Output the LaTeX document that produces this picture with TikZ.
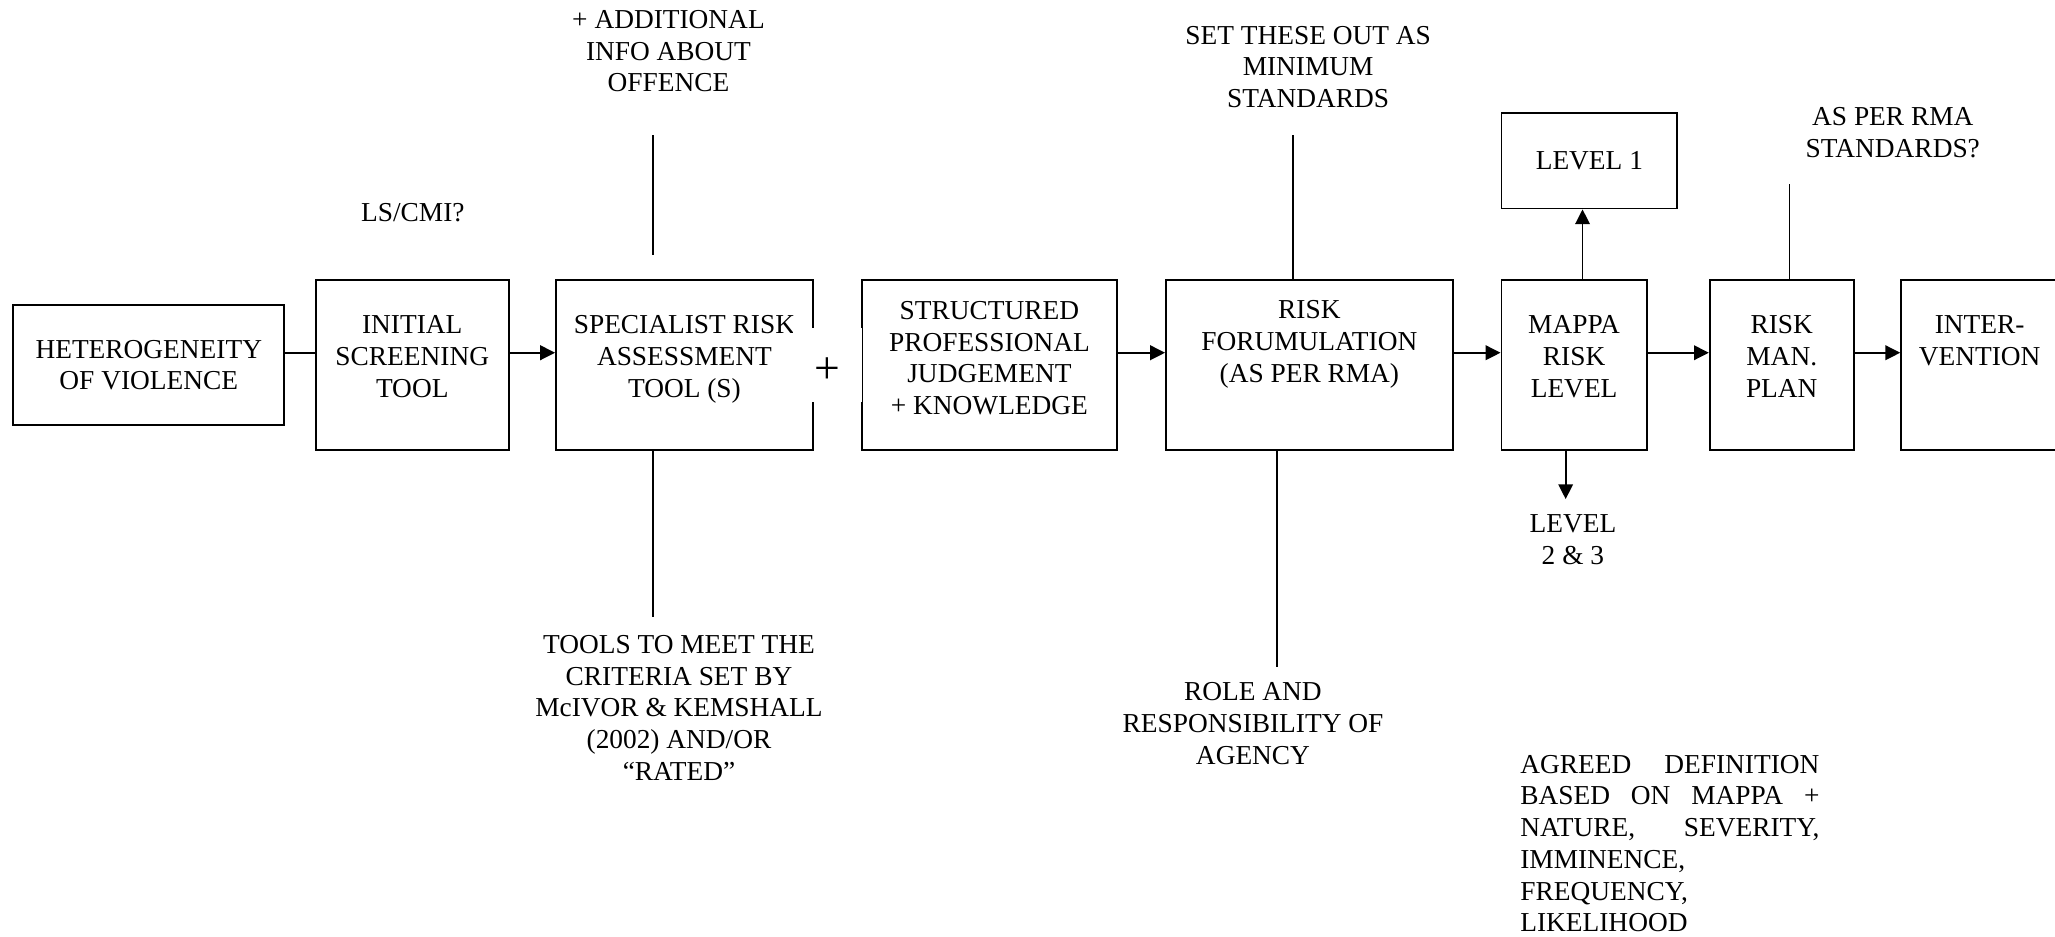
\documentclass[tikz,border=0pt]{standalone}
\usepackage{fontspec}
\setmainfont{Liberation Serif}
\usetikzlibrary{positioning, calc, arrows.meta}

\begin{document}
\begin{tikzpicture}[
  node distance=0.722cm,
  every node/.style={font=\fontsize{12}{13.9}\selectfont},
  stagebox/.style={draw, line width=0.8pt, align=center, minimum height=2.61cm, inner sep=2pt},
  note/.style={align=center},
  link/.style={line width=0.8pt},
  arrow/.style={line width=0.8pt, -{Triangle[length=6.5pt, width=6.4pt]}}
]
\useasboundingbox (0,0) rectangle (31.67,-14.44);

% main chain
\node[stagebox, minimum width=4.18cm, minimum height=1.84cm] (hetero) at (2.293,-5.626) {HETEROGENEITY\\OF VIOLENCE};
\node[stagebox, minimum width=2.97cm, text depth=7.4pt, right=0.457cm of hetero] (init) {INITIAL\\SCREENING\\TOOL};
\node[stagebox, minimum width=3.96cm, text depth=7.4pt, right=0.702cm of init] (spec) {SPECIALIST RISK\\ASSESSMENT\\TOOL (S)};
\node[stagebox, minimum width=3.94cm, text depth=6.3pt, right=of spec] (struct) {STRUCTURED\\PROFESSIONAL\\JUDGEMENT\\+ KNOWLEDGE};
\node[stagebox, minimum width=4.42cm, text depth=20.7pt, right=of struct] (riskform) {RISK\\FORUMULATION\\(AS PER RMA)};
\node[stagebox, minimum width=2.24cm, text depth=7.4pt, right=of riskform] (mappa) {MAPPA\\RISK\\LEVEL};
\node[stagebox, minimum width=2.71cm, minimum height=1.47cm, above right=1.08cm and 0cm of mappa.north west] (level1) {LEVEL 1};
\node[stagebox, minimum width=2.22cm, text depth=7.4pt, right=0.942cm of mappa] (riskman) {RISK\\MAN.\\PLAN};
\node[stagebox, minimum width=2.42cm, text depth=21.3pt, right=0.702cm of riskman] (interv) {INTER-\\VENTION};

% plus sign between the two assessments
\node[fill=white, outer sep=0pt, anchor=east, minimum width=1.05cm, minimum height=1.15cm,
  text height=16pt, text depth=0pt, font=\fontsize{20}{22}\selectfont] (plus) at ([xshift=0.4pt]struct.west) {+};

% side notes
\node[note] (lscmi) at (6.363,-3.272) {LS/CMI?};
\node[note] (info) at (10.302,-0.788) {+ ADDITIONAL\\INFO ABOUT\\OFFENCE};
\node[note] (tools) at (10.464,-10.908) {TOOLS TO MEET THE\\CRITERIA SET BY\\McIVOR \& KEMSHALL\\(2002) AND/OR\\“RATED”};
\node[note] (setout) at (20.16,-1.03) {SET THESE OUT AS\\MINIMUM\\STANDARDS};
\node[note] (role) at (19.31,-11.15) {ROLE AND\\RESPONSIBILITY OF\\AGENCY};
\node[note] (lvltwo) at (24.24,-8.32) {LEVEL\\2 \& 3};
\node[note] (rmastd) at (29.17,-2.04) {AS PER RMA\\STANDARDS?};
\node[text width=4.61cm, align=justify] (agreed) at (25.735,-13.0) {AGREED DEFINITION\linebreak BASED ON MAPPA +\linebreak NATURE, SEVERITY,\linebreak IMMINENCE,\newline FREQUENCY,\newline LIKELIHOOD};

% flow
\draw[link] ([yshift=0.19cm]hetero.east) -- ([yshift=0.19cm]init.west);
\draw[arrow] ([yshift=0.19cm]init.east) -- ([yshift=0.19cm]spec.west);
\draw[arrow] ([yshift=0.19cm]struct.east) -- ([yshift=0.19cm]riskform.west);
\draw[arrow] ([yshift=0.19cm]riskform.east) -- ([yshift=0.19cm]mappa.west);
\draw[arrow] ([yshift=0.19cm]mappa.east) -- ([yshift=0.19cm]riskman.west);
\draw[arrow] ([yshift=0.19cm]riskman.east) -- ([yshift=0.19cm]interv.west);
\draw[arrow] ([xshift=0.13cm]mappa.north) -- ([xshift=0.13cm]mappa.north |- level1.south);
\draw[arrow] ([xshift=-0.13cm]mappa.south) -- ([xshift=-0.13cm, yshift=0.12cm]mappa.south |- lvltwo.north);

% note lines
\draw[link] ([xshift=-0.485cm, yshift=0.38cm]spec.north) -- ([xshift=-0.485cm, yshift=-0.545cm]spec.north |- info.south);
\draw[link] ([xshift=-0.485cm]spec.south) -- ([xshift=-0.485cm, yshift=0.16cm]spec.south |- tools.north);
\draw[link] ([xshift=-0.25cm]riskform.north) -- ([xshift=-0.25cm, yshift=-0.3cm]riskform.north |- setout.south);
\draw[link] ([xshift=-0.495cm]riskform.south) -- ([xshift=-0.495cm, yshift=0.12cm]riskform.south |- role.north);
\draw[link] ([xshift=0.12cm]riskman.north) -- ([xshift=0.12cm, yshift=-0.28cm]riskman.north |- rmastd.south);
\end{tikzpicture}
\end{document}
